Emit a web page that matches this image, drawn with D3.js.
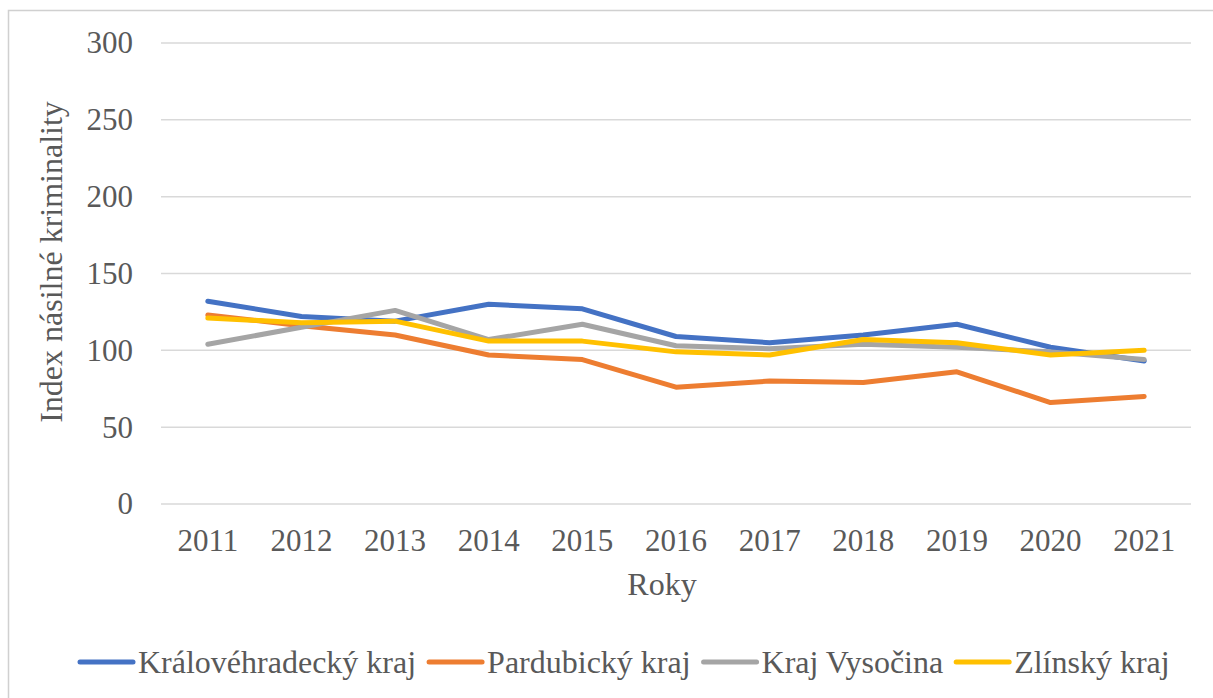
<!DOCTYPE html>
<html>
<head>
<meta charset="utf-8">
<script src="https://cdn.jsdelivr.net/npm/d3@7"></script>
<style>
  body { margin: 0; background: #fff; }
  text { font-family: "Liberation Serif", "Times New Roman", "DejaVu Serif", serif; fill: #595959; }
</style>
</head>
<body>
<div class="chart"></div>
<script>
// Data
const years = ["2011", "2012", "2013", "2014", "2015", "2016", "2017", "2018", "2019", "2020", "2021"];
const seriesNames = ["Královéhradecký kraj", "Pardubický kraj", "Kraj Vysočina", "Zlínský kraj"];
const seriesColors = ["#4472c4", "#ed7d31", "#a5a5a5", "#ffc000"];
const kralovehradecky = [132, 122, 119, 130, 127, 109, 105, 110, 117, 102, 93];
const pardubicky = [123, 116, 110, 97, 94, 76, 80, 79, 86, 66, 70];
const vysocina = [104, 115, 126, 107, 117, 103, 101, 104, 102, 99, 94];
const zlinsky = [121, 118, 119, 106, 106, 99, 97, 107, 105, 97, 100];
const yTicks = [0, 50, 100, 150, 200, 250, 300];

const allSeries = [kralovehradecky, pardubicky, vysocina, zlinsky];

const W = 1213, H = 698;
const margin = {top: 43, right: 22, bottom: 194, left: 161};
const width = W - margin.left - margin.right;
const height = H - margin.top - margin.bottom;

const x = d3.scaleBand().domain(years).range([0, width]);
const y = d3.scaleLinear().domain([0, 300]).range([height, 0]);

const svg = d3.select(".chart").append("svg")
    .attr("width", W)
    .attr("height", H);

// frame
svg.append("path")
    .attr("d", "M8.5," + H + " V10.5 H" + W)
    .attr("fill", "none")
    .attr("stroke", "#d0d0d0")
    .attr("stroke-width", 1.5);

const g = svg.append("g")
    .attr("transform", "translate(" + margin.left + "," + margin.top + ")");

// gridlines
g.selectAll(".grid")
    .data(yTicks)
    .join("line")
    .attr("x1", 0)
    .attr("x2", width)
    .attr("y1", d => y(d))
    .attr("y2", d => y(d))
    .attr("stroke", "#d9d9d9")
    .attr("stroke-width", 1.5);

// y axis labels
const yAxis = d3.axisLeft(y).tickValues(yTicks).tickSize(0).tickPadding(28);
g.append("g").call(yAxis)
    .attr("font-family", null)
    .call(s => s.select(".domain").remove())
    .selectAll("text")
    .attr("font-size", 31)
    .attr("fill", "#595959");

// x axis labels
const xAxis = d3.axisBottom(x).tickSize(0).tickPadding(25);
g.append("g")
    .attr("transform", "translate(0," + height + ")")
    .attr("font-family", null)
    .call(xAxis)
    .call(s => s.select(".domain").remove())
    .selectAll("text")
    .attr("font-size", 31)
    .attr("fill", "#595959");

// axis titles
svg.append("text")
    .attr("x", 662)
    .attr("y", 595)
    .attr("text-anchor", "middle")
    .attr("font-size", 32)
    .text("Roky");

svg.append("text")
    .attr("transform", "translate(62,262) rotate(-90)")
    .attr("text-anchor", "middle")
    .attr("font-size", 32)
    .text("Index násilné kriminality");

// lines
const line = d3.line()
    .x((d, i) => x(years[i]) + x.bandwidth() / 2)
    .y(d => y(d));

g.selectAll(".series")
    .data(allSeries)
    .join("path")
    .attr("class", "series")
    .attr("fill", "none")
    .attr("stroke", (d, i) => seriesColors[i])
    .attr("stroke-width", 5)
    .attr("stroke-linejoin", "round")
    .attr("stroke-linecap", "round")
    .attr("d", line);

// legend, laid out from measured text widths
const legend = svg.append("g");
let lx = 78;
seriesNames.forEach((name, i) => {
    legend.append("line")
        .attr("x1", lx + 2)
        .attr("x2", lx + 55)
        .attr("y1", 662)
        .attr("y2", 662)
        .attr("stroke", seriesColors[i])
        .attr("stroke-width", 5)
        .attr("stroke-linecap", "round");
    const t = legend.append("text")
        .attr("x", lx + 60)
        .attr("y", 673)
        .attr("font-size", 32)
        .text(name);
    lx += 60 + t.node().getComputedTextLength() + 11;
});
</script>
</body>
</html>
